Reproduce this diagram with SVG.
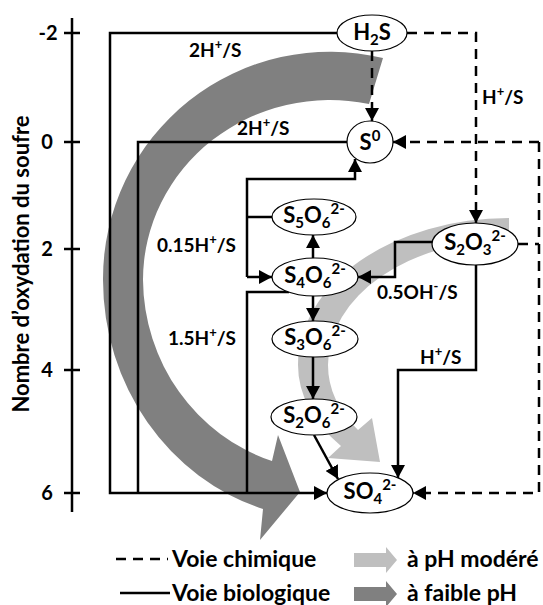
<svg xmlns="http://www.w3.org/2000/svg" width="543" height="605" viewBox="0 0 543 605">
<style>
text{font-family:Lato,"Liberation Sans",sans-serif;font-weight:bold;fill:#000}
.ln{fill:none;stroke:#000;stroke-width:2.5}
.ds{fill:none;stroke:#000;stroke-width:2.5;stroke-dasharray:10 7}
.nd ellipse{fill:#fff;stroke:#000;stroke-width:1.2}
.nt{font-size:22px;text-anchor:middle}
.nt .s{font-size:15px}
.lb{font-size:19px}
.ax{font-size:20px;text-anchor:middle}
.tt{font-size:22px}
.lg{font-size:23px}
.s{font-size:13px}
.light{fill:#bfbfbf}
.dark{fill:#808080}
</style>
<defs>
<marker id="ah" viewBox="0 0 13 14" refX="13" refY="7" markerWidth="13" markerHeight="14" markerUnits="userSpaceOnUse" orient="auto">
<path d="M0,0 L13,7 L0,14 z" fill="#000"/>
</marker>
</defs>

<g id="axis">
<path class="ln" d="M72,18 V512 M64,33 H80 M64,142 H80 M64,249 H80 M64,370 H80 M64,493 H80"/>
<text class="ax" x="48" y="40">-2</text>
<text class="ax" x="47" y="149">0</text>
<text class="ax" x="47" y="256">2</text>
<text class="ax" x="47" y="377">4</text>
<text class="ax" x="47" y="500">6</text>
<text class="tt" transform="translate(29,264) rotate(-90)" text-anchor="middle">Nombre d’oxydation du soufre</text>
</g>

<g id="bands">
<path class="dark" d="M383,58 A227 227 0 0 0 103,280 A227 240 0 0 0 263,509 L260,540 L300,492 L278,435 L272,461 A187 192 0 0 1 143,280 A187 180 0 0 1 369,104 Z"/>
<path class="light" d="M509,218 A211 147 0 0 0 298,365 A211 134 0 0 0 341,446 L328,458 L380,462 L372,418 L358,430 A181 118 0 0 1 328,365 A181 125 0 0 1 509,240 Z"/>
</g>

<g id="connectors">
<path class="ln" d="M337,33 H110 V493 H327" marker-end="url(#ah)"/>
<path class="ln" d="M347,142 H138 V493"/>
<path class="ln" d="M289,292 H247 V493"/>
<path class="ln" d="M247,277 V179 H355 V159" marker-end="url(#ah)"/>
<path class="ln" d="M247,277 H272" marker-end="url(#ah)"/>
<path class="ln" d="M247,217 H272"/>
<path class="ln" d="M313,258 V235" marker-end="url(#ah)"/>
<path class="ln" d="M432,242 H395 V277 H358" marker-end="url(#ah)"/>
<path class="ln" d="M313,296 V321" marker-end="url(#ah)"/>
<path class="ln" d="M313,357 V399" marker-end="url(#ah)"/>
<path class="ln" d="M314,435 L338,479" marker-end="url(#ah)"/>
<path class="ln" d="M476,265 V370 H398 V478" marker-end="url(#ah)"/>
<path class="ds" d="M372,51 V121" marker-end="url(#ah)"/>
<path class="ds" d="M407,33 H476 V223" marker-end="url(#ah)"/>
<path class="ds" d="M539,142 H393" marker-end="url(#ah)"/>
<path class="ds" d="M539,142 V493 H413" marker-end="url(#ah)"/>
<path class="ds" d="M518,244 H539"/>
<text class="lb" x="189" y="57">2H<tspan class="s" dy="-8">+</tspan><tspan dy="8">/S</tspan></text>
<text class="lb" x="237" y="135">2H<tspan class="s" dy="-8">+</tspan><tspan dy="8">/S</tspan></text>
<text class="lb" x="482" y="104">H<tspan class="s" dy="-8">+</tspan><tspan dy="8">/S</tspan></text>
<text class="lb" x="157" y="252">0.15H<tspan class="s" dy="-8">+</tspan><tspan dy="8">/S</tspan></text>
<text class="lb" x="377" y="299">0.5OH<tspan class="s" dy="-8">-</tspan><tspan dy="8">/S</tspan></text>
<text class="lb" x="168" y="345">1.5H<tspan class="s" dy="-8">+</tspan><tspan dy="8">/S</tspan></text>
<text class="lb" x="420" y="364">H<tspan class="s" dy="-8">+</tspan><tspan dy="8">/S</tspan></text>
</g>

<g id="n-h2s" class="nd"><ellipse cx="372" cy="33" rx="35" ry="18"/><text class="nt" x="372" y="40">H<tspan class="s" dy="5">2</tspan><tspan dy="-5">S</tspan></text></g>
<g id="n-s0" class="nd"><ellipse cx="370" cy="142" rx="23" ry="21"/><text class="nt" x="370" y="150">S<tspan class="s" dy="-9">0</tspan></text></g>
<g id="n-s5o6" class="nd"><ellipse cx="314" cy="217" rx="42" ry="18"/><text class="nt" x="314" y="223">S<tspan class="s" dy="5">5</tspan><tspan dy="-5">O</tspan><tspan class="s" dy="5">6</tspan><tspan class="s" dy="-14">2-</tspan></text></g>
<g id="n-s4o6" class="nd"><ellipse cx="315" cy="277" rx="43" ry="19"/><text class="nt" x="315" y="283">S<tspan class="s" dy="5">4</tspan><tspan dy="-5">O</tspan><tspan class="s" dy="5">6</tspan><tspan class="s" dy="-14">2-</tspan></text></g>
<g id="n-s3o6" class="nd"><ellipse cx="315" cy="339" rx="43" ry="18"/><text class="nt" x="315" y="345">S<tspan class="s" dy="5">3</tspan><tspan dy="-5">O</tspan><tspan class="s" dy="5">6</tspan><tspan class="s" dy="-14">2-</tspan></text></g>
<g id="n-s2o6" class="nd"><ellipse cx="314" cy="417" rx="43" ry="18"/><text class="nt" x="314" y="423">S<tspan class="s" dy="5">2</tspan><tspan dy="-5">O</tspan><tspan class="s" dy="5">6</tspan><tspan class="s" dy="-14">2-</tspan></text></g>
<g id="n-s2o3" class="nd"><ellipse cx="475" cy="244" rx="43" ry="21"/><text class="nt" x="475" y="250">S<tspan class="s" dy="5">2</tspan><tspan dy="-5">O</tspan><tspan class="s" dy="5">3</tspan><tspan class="s" dy="-14">2-</tspan></text></g>
<g id="n-so4" class="nd"><ellipse cx="370" cy="493" rx="43" ry="20"/><text class="nt" x="370" y="499">SO<tspan class="s" dy="5">4</tspan><tspan class="s" dy="-14">2-</tspan></text></g>

<g id="legend">
<path class="ds" d="M116,559 H168"/>
<text class="lg" x="172" y="567">Voie chimique</text>
<path class="ln" d="M120,593 H170"/>
<text class="lg" x="172" y="601">Voie biologique</text>
<path class="light" d="M354,553 H386 V547 L397,560 L386,573 V567 H354 Z"/>
<text class="lg" x="407" y="567">à pH modéré</text>
<path class="dark" d="M354,587 H386 V581 L397,594 L386,607 V601 H354 Z"/>
<text class="lg" x="407" y="601">à faible pH</text>
</g>
</svg>
